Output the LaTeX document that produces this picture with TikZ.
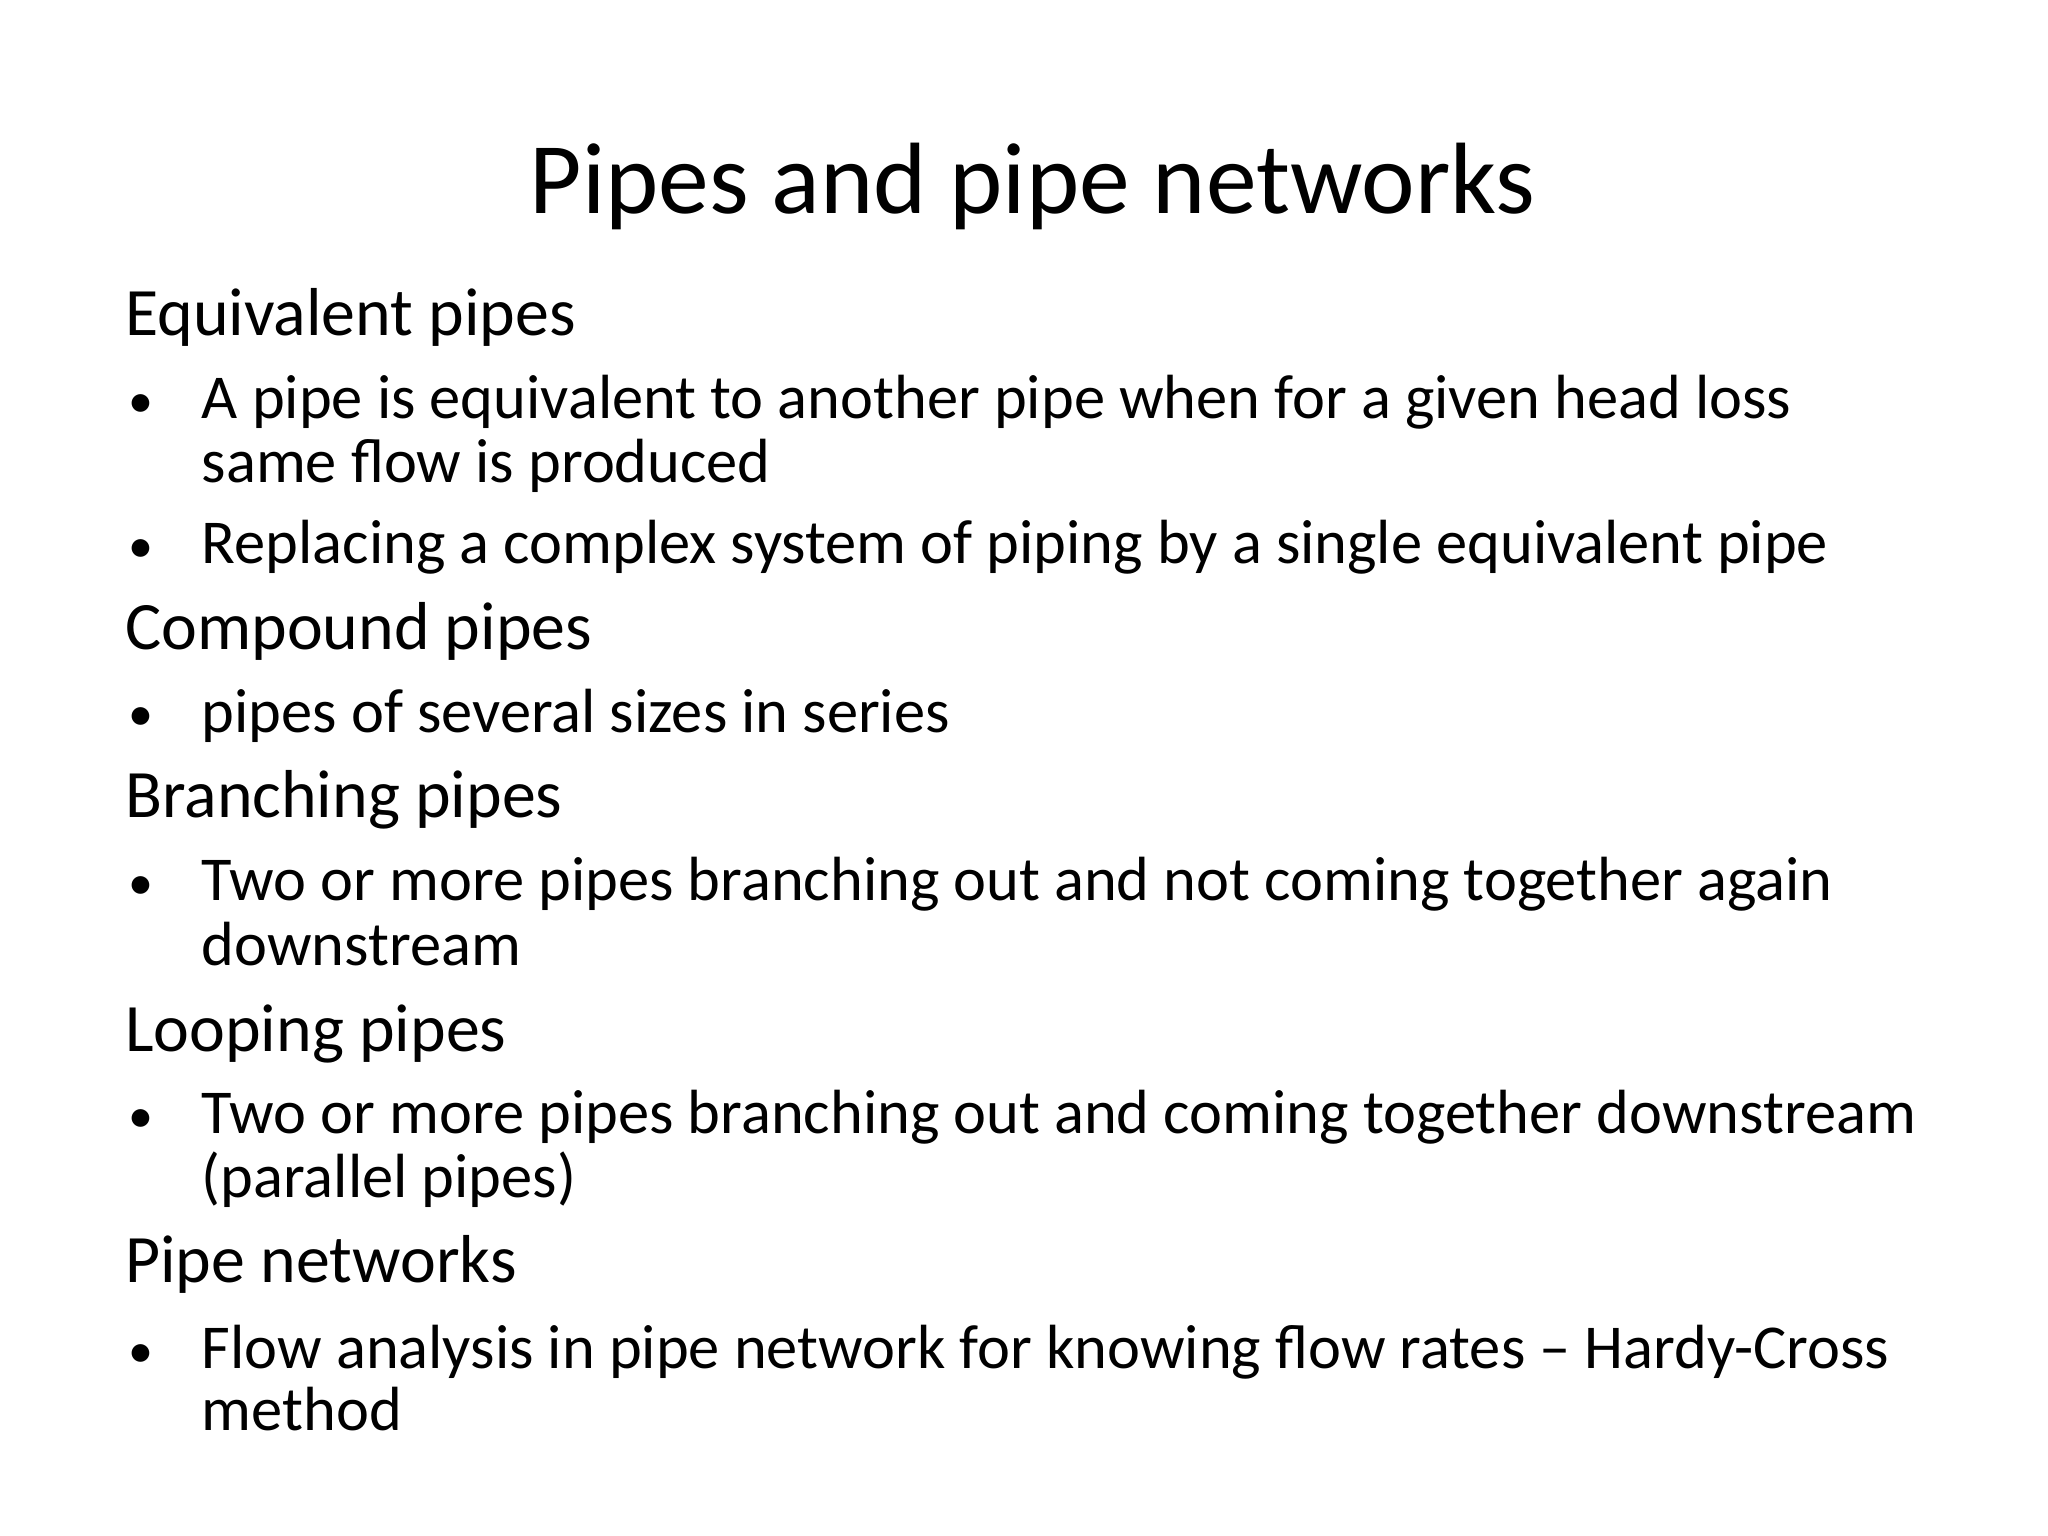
\documentclass[tikz,border=0pt]{standalone}
\usepackage{fontspec}
\setmainfont{Carlito}
\begin{document}
\begin{tikzpicture}[x=1pt,y=-1pt,
 ttl/.style={anchor=base,inner sep=0pt,font=\fontsize{77}{84}\selectfont},
 hd/.style={anchor=base west,inner sep=0pt,font=\fontsize{51.5}{56}\selectfont},
 bt/.style={anchor=base west,inner sep=0pt,font=\fontsize{47.4}{52}\selectfont},
 bl/.style={anchor=base west,inner sep=0pt,font=\fontsize{38}{44}\selectfont}]
\useasboundingbox (0,0) rectangle (1555,1166);
\fill[white] (0,0) rectangle (1555,1166);
\node[ttl] (t) at (784,162) {Pipes and pipe networks};
\node[hd] (h1) at (95,255) {Equivalent pipes};
\node[bl] (b1) at (97,317) {•};
\node[bt] (l1) at (153,318) {A pipe is equivalent to another pipe when for a given head loss};
\node[bt] (l2) at (153,366) {same flow is produced};
\node[bl] (b2) at (97,427) {•};
\node[bt] (l3) at (153,428) {Replacing a complex system of piping by a single equivalent pipe};
\node[hd] (h2) at (95,493) {Compound pipes};
\node[bl] (b3) at (97,555) {•};
\node[bt] (l4) at (153,556) {pipes of several sizes in series};
\node[hd] (h3) at (95,621) {Branching pipes};
\node[bl] (b4) at (97,683) {•};
\node[bt] (l5) at (153,684) {Two or more pipes branching out and not coming together again};
\node[bt] (l6) at (153,733) {downstream};
\node[hd] (h4) at (95,798) {Looping pipes};
\node[bl] (b5) at (97,860) {•};
\node[bt] (l7) at (153,861) {Two or more pipes branching out and coming together downstream};
\node[bt] (l8) at (153,909) {(parallel pipes)};
\node[hd] (h5) at (95,974) {Pipe networks};
\node[bl] (b6) at (97,1038) {•};
\node[bt] (l9) at (153,1039) {Flow analysis in pipe network for knowing flow rates – Hardy-Cross};
\node[bt] (l10) at (153,1086) {method};
\end{tikzpicture}
\end{document}
